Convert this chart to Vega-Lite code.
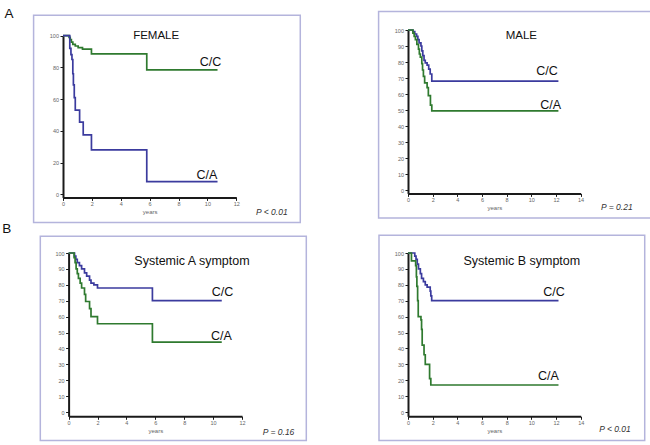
{
  "$schema": "https://vega.github.io/schema/vega-lite/v6.json",
  "background": "#ffffff",
  "padding": {"left": 2, "top": 6, "right": 0, "bottom": 0},
  "config": {
    "font": "Liberation Sans",
    "view": {"stroke": null},
    "axis": {
      "grid": false,
      "domainColor": "#1a1a1a",
      "domainWidth": 2,
      "tickColor": "#1a1a1a",
      "tickSize": 3,
      "tickWidth": 1,
      "labelFontSize": 5.5,
      "labelColor": "#666666",
      "labelPadding": 1.5,
      "labelFlush": false,
      "labelOverlap": false,
      "titleFontSize": 6,
      "titleFontWeight": "normal",
      "titleColor": "#666666",
      "titlePadding": 1
    }
  },
  "datasets": {
    "curves": [
      {"p": "F", "g": "C/C", "t": 0, "s": 100}, {"p": "F", "g": "C/C", "t": 0.42, "s": 99}, {"p": "F", "g": "C/C", "t": 0.5, "s": 97.5}, {"p": "F", "g": "C/C", "t": 0.58, "s": 96}, {"p": "F", "g": "C/C", "t": 0.68, "s": 94.5}, {"p": "F", "g": "C/C", "t": 0.85, "s": 93.5}, {"p": "F", "g": "C/C", "t": 1.05, "s": 92.5}, {"p": "F", "g": "C/C", "t": 1.35, "s": 91.5}, {"p": "F", "g": "C/C", "t": 1.97, "s": 88.5}, {"p": "F", "g": "C/C", "t": 5.8, "s": 78.5}, {"p": "F", "g": "C/C", "t": 10.7, "s": 78.5},
      {"p": "F", "g": "C/A", "t": 0, "s": 100}, {"p": "F", "g": "C/A", "t": 0.47, "s": 92}, {"p": "F", "g": "C/A", "t": 0.55, "s": 88}, {"p": "F", "g": "C/A", "t": 0.62, "s": 85}, {"p": "F", "g": "C/A", "t": 0.68, "s": 76}, {"p": "F", "g": "C/A", "t": 0.72, "s": 69}, {"p": "F", "g": "C/A", "t": 0.78, "s": 61}, {"p": "F", "g": "C/A", "t": 0.85, "s": 53}, {"p": "F", "g": "C/A", "t": 1.15, "s": 45.5}, {"p": "F", "g": "C/A", "t": 1.4, "s": 37.5}, {"p": "F", "g": "C/A", "t": 1.97, "s": 28}, {"p": "F", "g": "C/A", "t": 5.8, "s": 8}, {"p": "F", "g": "C/A", "t": 10.7, "s": 8},
      {"p": "M", "g": "C/C", "t": 0, "s": 100}, {"p": "M", "g": "C/C", "t": 0.4, "s": 99}, {"p": "M", "g": "C/C", "t": 0.55, "s": 97.5}, {"p": "M", "g": "C/C", "t": 0.7, "s": 96}, {"p": "M", "g": "C/C", "t": 0.8, "s": 94}, {"p": "M", "g": "C/C", "t": 0.9, "s": 92}, {"p": "M", "g": "C/C", "t": 1.05, "s": 90}, {"p": "M", "g": "C/C", "t": 1.12, "s": 87}, {"p": "M", "g": "C/C", "t": 1.2, "s": 84}, {"p": "M", "g": "C/C", "t": 1.3, "s": 81}, {"p": "M", "g": "C/C", "t": 1.4, "s": 79.5}, {"p": "M", "g": "C/C", "t": 1.55, "s": 78}, {"p": "M", "g": "C/C", "t": 1.68, "s": 75.5}, {"p": "M", "g": "C/C", "t": 1.8, "s": 72.5}, {"p": "M", "g": "C/C", "t": 1.93, "s": 68}, {"p": "M", "g": "C/C", "t": 12.2, "s": 68},
      {"p": "M", "g": "C/A", "t": 0, "s": 100}, {"p": "M", "g": "C/A", "t": 0.4, "s": 98}, {"p": "M", "g": "C/A", "t": 0.5, "s": 96}, {"p": "M", "g": "C/A", "t": 0.6, "s": 94}, {"p": "M", "g": "C/A", "t": 0.72, "s": 91}, {"p": "M", "g": "C/A", "t": 0.85, "s": 88}, {"p": "M", "g": "C/A", "t": 0.92, "s": 85}, {"p": "M", "g": "C/A", "t": 1.0, "s": 83}, {"p": "M", "g": "C/A", "t": 1.12, "s": 79}, {"p": "M", "g": "C/A", "t": 1.18, "s": 75}, {"p": "M", "g": "C/A", "t": 1.25, "s": 71}, {"p": "M", "g": "C/A", "t": 1.35, "s": 67}, {"p": "M", "g": "C/A", "t": 1.55, "s": 64}, {"p": "M", "g": "C/A", "t": 1.65, "s": 59}, {"p": "M", "g": "C/A", "t": 1.82, "s": 53}, {"p": "M", "g": "C/A", "t": 1.93, "s": 49.5}, {"p": "M", "g": "C/A", "t": 12.2, "s": 49.5},
      {"p": "SA", "g": "C/C", "t": 0, "s": 100}, {"p": "SA", "g": "C/C", "t": 0.41, "s": 98}, {"p": "SA", "g": "C/C", "t": 0.5, "s": 96}, {"p": "SA", "g": "C/C", "t": 0.6, "s": 94}, {"p": "SA", "g": "C/C", "t": 0.75, "s": 92}, {"p": "SA", "g": "C/C", "t": 0.9, "s": 90}, {"p": "SA", "g": "C/C", "t": 1.1, "s": 87.5}, {"p": "SA", "g": "C/C", "t": 1.25, "s": 85.5}, {"p": "SA", "g": "C/C", "t": 1.45, "s": 83}, {"p": "SA", "g": "C/C", "t": 1.55, "s": 81}, {"p": "SA", "g": "C/C", "t": 1.75, "s": 80}, {"p": "SA", "g": "C/C", "t": 2.0, "s": 78}, {"p": "SA", "g": "C/C", "t": 5.8, "s": 70}, {"p": "SA", "g": "C/C", "t": 10.6, "s": 70},
      {"p": "SA", "g": "C/A", "t": 0, "s": 100}, {"p": "SA", "g": "C/A", "t": 0.38, "s": 97}, {"p": "SA", "g": "C/A", "t": 0.45, "s": 94}, {"p": "SA", "g": "C/A", "t": 0.52, "s": 90}, {"p": "SA", "g": "C/A", "t": 0.6, "s": 87}, {"p": "SA", "g": "C/A", "t": 0.68, "s": 84}, {"p": "SA", "g": "C/A", "t": 0.8, "s": 81}, {"p": "SA", "g": "C/A", "t": 0.9, "s": 78}, {"p": "SA", "g": "C/A", "t": 1.1, "s": 74}, {"p": "SA", "g": "C/A", "t": 1.18, "s": 69.5}, {"p": "SA", "g": "C/A", "t": 1.45, "s": 65}, {"p": "SA", "g": "C/A", "t": 1.55, "s": 60}, {"p": "SA", "g": "C/A", "t": 2.0, "s": 55.5}, {"p": "SA", "g": "C/A", "t": 5.8, "s": 44}, {"p": "SA", "g": "C/A", "t": 10.6, "s": 44},
      {"p": "SB", "g": "C/C", "t": 0, "s": 100}, {"p": "SB", "g": "C/C", "t": 0.55, "s": 98}, {"p": "SB", "g": "C/C", "t": 0.65, "s": 96}, {"p": "SB", "g": "C/C", "t": 0.75, "s": 93}, {"p": "SB", "g": "C/C", "t": 0.85, "s": 90}, {"p": "SB", "g": "C/C", "t": 1.0, "s": 87}, {"p": "SB", "g": "C/C", "t": 1.1, "s": 84}, {"p": "SB", "g": "C/C", "t": 1.25, "s": 82}, {"p": "SB", "g": "C/C", "t": 1.4, "s": 80}, {"p": "SB", "g": "C/C", "t": 1.55, "s": 78.5}, {"p": "SB", "g": "C/C", "t": 1.8, "s": 76}, {"p": "SB", "g": "C/C", "t": 1.85, "s": 73}, {"p": "SB", "g": "C/C", "t": 1.92, "s": 70}, {"p": "SB", "g": "C/C", "t": 12.2, "s": 70},
      {"p": "SB", "g": "C/A", "t": 0, "s": 100}, {"p": "SB", "g": "C/A", "t": 0.28, "s": 95}, {"p": "SB", "g": "C/A", "t": 0.62, "s": 92}, {"p": "SB", "g": "C/A", "t": 0.68, "s": 85}, {"p": "SB", "g": "C/A", "t": 0.72, "s": 79}, {"p": "SB", "g": "C/A", "t": 0.78, "s": 70}, {"p": "SB", "g": "C/A", "t": 0.83, "s": 60}, {"p": "SB", "g": "C/A", "t": 1.05, "s": 58}, {"p": "SB", "g": "C/A", "t": 1.1, "s": 52}, {"p": "SB", "g": "C/A", "t": 1.15, "s": 42}, {"p": "SB", "g": "C/A", "t": 1.3, "s": 36}, {"p": "SB", "g": "C/A", "t": 1.4, "s": 30}, {"p": "SB", "g": "C/A", "t": 1.75, "s": 21}, {"p": "SB", "g": "C/A", "t": 1.85, "s": 17}, {"p": "SB", "g": "C/A", "t": 12.2, "s": 17}
    ],
    "frames": [
      {"p": "F", "t": -2.036, "t2": 16.43, "s": 112.93, "s2": -17.77},
      {"p": "M", "t": -2.385, "t2": 24.19, "s": 111.62, "s2": -17.47},
      {"p": "SA", "t": -1.958, "t2": 16.45, "s": 110.5, "s2": -17.98},
      {"p": "SB", "t": -2.351, "t2": 19.19, "s": 111.13, "s2": -17.98}
    ],
    "labels": [
      {"p": "F", "k": "title", "text": "FEMALE", "t": 6.45, "s": 100},
      {"p": "F", "k": "curve", "text": "C/C", "t": 10.21, "s": 83.6},
      {"p": "F", "k": "curve", "text": "C/A", "t": 9.97, "s": 12.13},
      {"p": "F", "k": "pval", "text": "P < 0.01", "t": 14.46, "s": -11.46},
      {"p": "F", "k": "letter", "text": "A", "t": -4.044, "s": 111.17},
      {"p": "M", "k": "title", "text": "MALE", "t": 9.19, "s": 96.4},
      {"p": "M", "k": "curve", "text": "C/C", "t": 11.27, "s": 74.1},
      {"p": "M", "k": "curve", "text": "C/A", "t": 11.57, "s": 53.3},
      {"p": "M", "k": "pval", "text": "P = 0.21", "t": 16.94, "s": -10.85},
      {"p": "SA", "k": "title", "text": "Systemic A symptom", "t": 8.54, "s": 94.8},
      {"p": "SA", "k": "curve", "text": "C/C", "t": 10.65, "s": 75.5},
      {"p": "SA", "k": "curve", "text": "C/A", "t": 10.58, "s": 47.6},
      {"p": "SA", "k": "pval", "text": "P = 0.16", "t": 14.53, "s": -12.6},
      {"p": "SA", "k": "letter", "text": "B", "t": -4.588, "s": 112.4},
      {"p": "SB", "k": "title", "text": "Systemic B symptom", "t": 9.23, "s": 94.8},
      {"p": "SB", "k": "curve", "text": "C/C", "t": 11.83, "s": 75.5},
      {"p": "SB", "k": "curve", "text": "C/A", "t": 11.39, "s": 22.5},
      {"p": "SB", "k": "pval", "text": "P < 0.01", "t": 16.78, "s": -10.4}
    ]
  },
  "bounds": "flush",
  "columns": 2,
  "spacing": {"row": 55, "column": 166},
  "resolve": {"scale": {"color": "independent"}},
  "concat": [
    {
      "width": 173.3, "height": 167.4,
      "encoding": {
        "x": {"field": "t", "type": "quantitative", "scale": {"domain": [0, 12], "nice": false, "zero": false}, "axis": {"values": [0, 2, 4, 6, 8, 10, 12], "title": "years"}},
        "y": {"field": "s", "type": "quantitative", "scale": {"domain": [-2, 100], "range": [167.4, 5.7], "nice": false, "zero": false}, "axis": {"values": [0, 20, 40, 60, 80, 100], "title": null}}
      },
      "layer": [
        {"data": {"name": "frames"}, "transform": [{"filter": "datum.p === 'F'"}], "mark": {"type": "rect", "fill": "#ffffff", "fillOpacity": 0, "stroke": "#b4b4dc", "strokeWidth": 1.5}, "encoding": {"x2": {"field": "t2"}, "y2": {"field": "s2"}}},
        {"data": {"name": "curves"}, "transform": [{"filter": "datum.p === 'F'"}], "mark": {"type": "line", "interpolate": "step-after", "strokeWidth": 1.7}, "encoding": {"color": {"field": "g", "type": "nominal", "scale": {"domain": ["C/C", "C/A"], "range": ["#2f7a2f", "#3b3b9e"]}, "legend": null}}},
        {"data": {"name": "labels"}, "transform": [{"filter": "datum.p === 'F' && datum.k === 'title'"}], "mark": {"type": "text", "fontSize": 11.5, "align": "center", "baseline": "middle", "color": "#111111"}, "encoding": {"text": {"field": "text"}}},
        {"data": {"name": "labels"}, "transform": [{"filter": "datum.p === 'F' && datum.k === 'curve'"}], "mark": {"type": "text", "fontSize": 12.5, "align": "center", "baseline": "middle", "color": "#111111"}, "encoding": {"text": {"field": "text"}}},
        {"data": {"name": "labels"}, "transform": [{"filter": "datum.p === 'F' && datum.k === 'pval'"}], "mark": {"type": "text", "fontSize": 8.5, "fontStyle": "italic", "align": "center", "baseline": "middle", "color": "#333333"}, "encoding": {"text": {"field": "text"}}},
        {"data": {"name": "labels"}, "transform": [{"filter": "datum.p === 'F' && datum.k === 'letter'"}], "mark": {"type": "text", "fontSize": 13.5, "align": "left", "baseline": "alphabetic", "color": "#111111"}, "encoding": {"text": {"field": "text"}}}
      ]
    },
    {
      "width": 172.6, "height": 163.4,
      "encoding": {
        "x": {"field": "t", "type": "quantitative", "scale": {"domain": [0, 14], "nice": false, "zero": false}, "axis": {"values": [0, 2, 4, 6, 8, 10, 12, 14], "title": "years"}},
        "y": {"field": "s", "type": "quantitative", "scale": {"domain": [-2.1, 100], "nice": false, "zero": false}, "axis": {"values": [0, 10, 20, 30, 40, 50, 60, 70, 80, 90, 100], "title": null}}
      },
      "layer": [
        {"data": {"name": "frames"}, "transform": [{"filter": "datum.p === 'M'"}], "mark": {"type": "rect", "fill": "#ffffff", "fillOpacity": 0, "stroke": "#b4b4dc", "strokeWidth": 1.5}, "encoding": {"x2": {"field": "t2"}, "y2": {"field": "s2"}}},
        {"data": {"name": "curves"}, "transform": [{"filter": "datum.p === 'M'"}], "mark": {"type": "line", "interpolate": "step-after", "strokeWidth": 1.7}, "encoding": {"color": {"field": "g", "type": "nominal", "scale": {"domain": ["C/C", "C/A"], "range": ["#3b3b9e", "#2f7a2f"]}, "legend": null}}},
        {"data": {"name": "labels"}, "transform": [{"filter": "datum.p === 'M' && datum.k === 'title'"}], "mark": {"type": "text", "fontSize": 11.5, "align": "center", "baseline": "middle", "color": "#111111"}, "encoding": {"text": {"field": "text"}}},
        {"data": {"name": "labels"}, "transform": [{"filter": "datum.p === 'M' && datum.k === 'curve'"}], "mark": {"type": "text", "fontSize": 12.5, "align": "center", "baseline": "middle", "color": "#111111"}, "encoding": {"text": {"field": "text"}}},
        {"data": {"name": "labels"}, "transform": [{"filter": "datum.p === 'M' && datum.k === 'pval'"}], "mark": {"type": "text", "fontSize": 8.5, "fontStyle": "italic", "align": "center", "baseline": "middle", "color": "#333333"}, "encoding": {"text": {"field": "text"}}}
      ]
    },
    {
      "width": 179, "height": 163.3,
      "encoding": {
        "x": {"field": "t", "type": "quantitative", "scale": {"domain": [0, 12], "range": [5.6, 179], "nice": false, "zero": false}, "axis": {"values": [0, 2, 4, 6, 8, 10, 12], "title": "years"}},
        "y": {"field": "s", "type": "quantitative", "scale": {"domain": [-2.7, 100], "nice": false, "zero": false}, "axis": {"values": [0, 10, 20, 30, 40, 50, 60, 70, 80, 90, 100], "title": null, "offset": -5.6}}
      },
      "layer": [
        {"data": {"name": "frames"}, "transform": [{"filter": "datum.p === 'SA'"}], "mark": {"type": "rect", "fill": "#ffffff", "fillOpacity": 0, "stroke": "#b4b4dc", "strokeWidth": 1.5}, "encoding": {"x2": {"field": "t2"}, "y2": {"field": "s2"}}},
        {"data": {"name": "curves"}, "transform": [{"filter": "datum.p === 'SA'"}], "mark": {"type": "line", "interpolate": "step-after", "strokeWidth": 1.7}, "encoding": {"color": {"field": "g", "type": "nominal", "scale": {"domain": ["C/C", "C/A"], "range": ["#3b3b9e", "#2f7a2f"]}, "legend": null}}},
        {"data": {"name": "labels"}, "transform": [{"filter": "datum.p === 'SA' && datum.k === 'title'"}], "mark": {"type": "text", "fontSize": 12.5, "align": "center", "baseline": "middle", "color": "#111111"}, "encoding": {"text": {"field": "text"}}},
        {"data": {"name": "labels"}, "transform": [{"filter": "datum.p === 'SA' && datum.k === 'curve'"}], "mark": {"type": "text", "fontSize": 12.5, "align": "center", "baseline": "middle", "color": "#111111"}, "encoding": {"text": {"field": "text"}}},
        {"data": {"name": "labels"}, "transform": [{"filter": "datum.p === 'SA' && datum.k === 'pval'"}], "mark": {"type": "text", "fontSize": 8.5, "fontStyle": "italic", "align": "center", "baseline": "middle", "color": "#333333"}, "encoding": {"text": {"field": "text"}}},
        {"data": {"name": "labels"}, "transform": [{"filter": "datum.p === 'SA' && datum.k === 'letter'"}], "mark": {"type": "text", "fontSize": 13.5, "align": "left", "baseline": "alphabetic", "color": "#111111"}, "encoding": {"text": {"field": "text"}}}
      ]
    },
    {
      "width": 172.7, "height": 163.3,
      "encoding": {
        "x": {"field": "t", "type": "quantitative", "scale": {"domain": [0, 14], "nice": false, "zero": false}, "axis": {"values": [0, 2, 4, 6, 8, 10, 12, 14], "title": "years"}},
        "y": {"field": "s", "type": "quantitative", "scale": {"domain": [-2.7, 100], "nice": false, "zero": false}, "axis": {"values": [0, 10, 20, 30, 40, 50, 60, 70, 80, 90, 100], "title": null}}
      },
      "layer": [
        {"data": {"name": "frames"}, "transform": [{"filter": "datum.p === 'SB'"}], "mark": {"type": "rect", "fill": "#ffffff", "fillOpacity": 0, "stroke": "#b4b4dc", "strokeWidth": 1.5}, "encoding": {"x2": {"field": "t2"}, "y2": {"field": "s2"}}},
        {"data": {"name": "curves"}, "transform": [{"filter": "datum.p === 'SB'"}], "mark": {"type": "line", "interpolate": "step-after", "strokeWidth": 1.7}, "encoding": {"color": {"field": "g", "type": "nominal", "scale": {"domain": ["C/C", "C/A"], "range": ["#3b3b9e", "#2f7a2f"]}, "legend": null}}},
        {"data": {"name": "labels"}, "transform": [{"filter": "datum.p === 'SB' && datum.k === 'title'"}], "mark": {"type": "text", "fontSize": 12.5, "align": "center", "baseline": "middle", "color": "#111111"}, "encoding": {"text": {"field": "text"}}},
        {"data": {"name": "labels"}, "transform": [{"filter": "datum.p === 'SB' && datum.k === 'curve'"}], "mark": {"type": "text", "fontSize": 12.5, "align": "center", "baseline": "middle", "color": "#111111"}, "encoding": {"text": {"field": "text"}}},
        {"data": {"name": "labels"}, "transform": [{"filter": "datum.p === 'SB' && datum.k === 'pval'"}], "mark": {"type": "text", "fontSize": 8.5, "fontStyle": "italic", "align": "center", "baseline": "middle", "color": "#333333"}, "encoding": {"text": {"field": "text"}}}
      ]
    }
  ]
}
